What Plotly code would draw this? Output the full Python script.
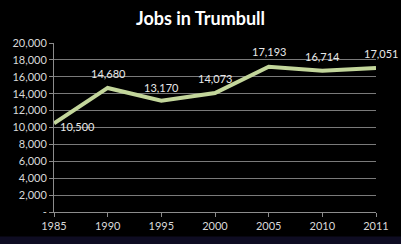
import plotly.graph_objects as go

years = ["1985", "1990", "1995", "2000", "2005", "2010", "2011"]
jobs = [10500, 14680, 13170, 14073, 17193, 16714, 17051]
label_dx = [23, 1, 0, 0, 0, 0, 5]
label_dy = [-3, 14, 13, 15, 15, 14, 14]
y_ticks = [0, 2000, 4000, 6000, 8000, 10000, 12000, 14000, 16000, 18000, 20000]
y_tick_text = ["-"] + [f"{v:,}" for v in y_ticks[1:]]

FONT = "Lato"
fig = go.Figure()
fig.add_trace(go.Scatter(
    x=list(range(len(years))), y=jobs, mode="lines",
    line=dict(color="#c3d69b", width=4), hoverinfo="skip"))

for i, v in enumerate(jobs):
    fig.add_annotation(x=i, y=v, text=f"{v:,}", showarrow=False,
                       xshift=label_dx[i], yshift=label_dy[i],
                       font=dict(family=FONT, size=11, color="#e8e8e8"))

fig.update_layout(
    width=401, height=244,
    margin=dict(l=53, r=22, t=43, b=31),
    paper_bgcolor="#000000", plot_bgcolor="#000000",
    showlegend=False,
    title=dict(text="<b>Jobs in Trumbull</b>", x=0.5, xanchor="center", y=0.925, yanchor="middle",
               font=dict(family=FONT, size=18, color="#ffffff")),
    xaxis=dict(tickmode="array", tickvals=list(range(len(years))), ticktext=years,
               range=[0, 6], showgrid=False, zeroline=False,
               showline=True, linecolor="#8c8c8c", linewidth=1,
               ticks="outside", ticklen=4, tickcolor="#8c8c8c",
               tickfont=dict(family=FONT, size=11, color="#d9d9d9")),
    yaxis=dict(tickmode="array", tickvals=y_ticks, ticktext=y_tick_text,
               range=[0, 20000], showgrid=True, gridcolor="#7a7a7a", gridwidth=1,
               zeroline=False, showline=True, linecolor="#8c8c8c", linewidth=1,
               ticks="outside", ticklen=4, tickcolor="#8c8c8c",
               tickfont=dict(family=FONT, size=11, color="#d9d9d9")),
)
fig.add_shape(type="rect", xref="paper", yref="paper", x0=-0.2, x1=1.1, y0=-0.145, y1=-0.2,
              fillcolor="#0e0c22", line=dict(width=0), layer="below")
fig.write_html("out.html", config={"displayModeBar": False},
               post_script="document.body.style.margin='0';document.body.style.background='#000';")
